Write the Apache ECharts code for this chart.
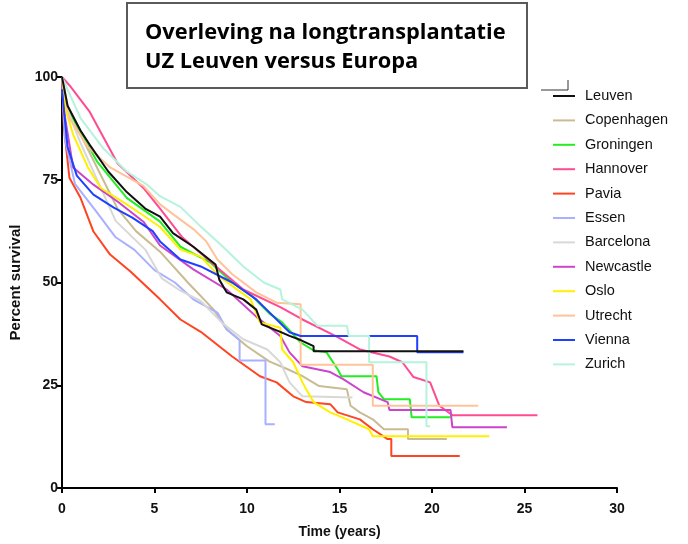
<!DOCTYPE html>
<html>
<head>
<meta charset="utf-8">
<script src="https://cdn.jsdelivr.net/npm/echarts@6/dist/echarts.min.js"></script>
<style>
html,body{margin:0;padding:0;background:#fff;}
#chart{width:688px;height:544px;}
</style>
</head>
<body>
<div id="chart"></div>
<script>
const titleLines = ['Overleving na longtransplantatie', 'UZ Leuven versus Europa'];
const xTicks = [0, 5, 10, 15, 20, 25, 30];
const yTicks = [0, 25, 50, 75, 100];
const names = ['Leuven','Copenhagen','Groningen','Hannover','Pavia','Essen','Barcelona','Newcastle','Oslo','Utrecht','Vienna','Zurich'];
const colors = ['#111111','#c9bc92','#22ee22','#ff4b93','#ff4422','#a9b0ff','#d8d8d8','#cc44cc','#fff000','#ffc39a','#1f40ff','#b5f3dc'];

const leuven = [[0,100],[0.3,93],[1,87],[1.5,83.5],[2.5,77],[3.5,72],[4.5,68],[5.3,66],[6,62],[7.1,58.7],[8.3,54.4],[8.5,50.7],[8.9,47.6],[9.8,45.9],[10.5,43.4],[10.8,39.8],[11.8,38],[12.3,37],[12.9,36],[13.6,34.5],[13.6,33.3],[21.7,33.3]];
const copenhagen = [[0,100],[0.3,93],[1,86],[2,77],[3,68],[4,62.5],[5.3,57.5],[6.8,50],[8.2,43.4],[8.9,38.6],[10,34.5],[11.2,30.8],[12.2,28.9],[13,27.2],[13.9,24.8],[15.4,24],[15.6,20],[16.1,18.4],[16.8,16.7],[17.4,14.3],[18.7,14.3],[18.7,11.9],[20.8,11.9]];
const groningen = [[0,100],[0.2,93],[1.1,86],[1.9,79.4],[3.5,70.6],[5.3,64.8],[6.4,58.7],[8,54.9],[9.2,50],[10.3,46.6],[11.2,42.5],[11.9,40.3],[12.9,35.4],[13.6,33.5],[14.3,33],[14.9,28.9],[15.1,27.2],[17,27.2],[17.1,23.3],[17.4,21.6],[18.8,21.6],[18.9,17.2],[21,17.2]];
const hannover = [[0,100],[0.4,98],[1.5,91.5],[3,79],[4.4,73],[5.3,68],[6.5,61],[8.2,54.4],[9.8,48.3],[11.8,44],[13,41],[14.9,36.7],[16.1,33.7],[17.7,32],[18.4,30.6],[19,27],[19.9,25.7],[20.4,20],[21.1,17.7],[25.7,17.7]];
const pavia = [[0,100],[0.1,88],[0.4,75.5],[1,70.6],[1.7,62.4],[2.6,56.8],[3.7,52.7],[5.3,45.9],[6.4,41],[7.5,38],[9.2,32],[10.7,27.2],[11.6,25.7],[12.5,22.3],[13.2,20.9],[14.5,20.4],[14.9,18.4],[16.1,16.7],[16.8,14.3],[17.6,11.9],[17.8,11.9],[17.8,7.8],[21.5,7.8]];
const essen = [[0,100],[0.15,85],[0.7,74],[1.9,67],[2.9,61],[3.9,58],[5,53],[6.1,50],[7.1,45.9],[8.4,42.7],[8.9,38.6],[9.6,36],[9.6,31],[11,31],[11,15.5],[11.5,15.5]];
const barcelona = [[0,100],[0.3,92],[1,84],[2,74],[2.9,65],[4.5,58],[5.4,51],[6.4,48],[7.5,45.5],[8.7,40],[9.8,36.2],[11.1,33.7],[11.8,30.6],[12.3,25.7],[13,22.3],[15.7,22]];
const newcastle = [[0,100],[0.1,92],[0.6,78],[1.7,73.8],[3,69.7],[4.4,64.8],[5.3,59],[7.1,53.2],[8.9,48.3],[10.5,41.7],[11.8,37],[12.3,33],[13,29.6],[14.5,28.2],[15.2,26.5],[16.3,23.3],[17.6,20.9],[17.7,19],[21,19],[21.1,14.8],[24.05,14.8]];
const oslo = [[0,100],[0.2,92],[0.6,86],[1.4,78],[2.1,73],[3.5,69],[4.5,66],[5.3,63.5],[6.4,58],[7.5,56.3],[8.5,51.5],[10.2,45.9],[10.7,40.3],[11.8,39],[11.9,33.7],[12.5,30.6],[13,25.7],[13.2,24],[13.6,20.9],[14.5,18.4],[15.4,16.7],[16.6,14.3],[16.8,12.6],[23.1,12.6]];
const utrecht = [[0,100],[0.4,90],[1.4,83],[2.6,78],[4.4,73.5],[5.3,69],[6.4,65.3],[7.1,63],[7.8,60],[8.4,55.6],[9.2,52],[10.5,47.6],[11.6,45.1],[12.9,44.7],[12.9,30],[16.8,30],[16.8,20],[22.5,20]];
const vienna = [[0,97],[0.3,83],[0.8,76],[1.7,71.4],[2.8,68.2],[3.8,65.8],[4.9,62.5],[5.3,60],[6.4,55.6],[7.5,53.9],[9.2,50],[10.5,45.9],[11.6,41],[12.3,37.9],[12.9,37],[19.2,37],[19.2,33],[21.7,33]];
const zurich = [[0,100],[1,90],[2.2,82.8],[3.5,77],[4.6,73.8],[5.3,71],[6.4,68.4],[7.5,63.6],[8.7,58.7],[9.8,53.9],[10.9,50],[11.8,48.3],[11.9,45.9],[13,43.4],[13.8,39.5],[15.4,39.5],[15.5,37],[16.6,37],[16.6,30.6],[19.7,30.6],[19.7,15],[19.9,15]];

const seriesData = [leuven, copenhagen, groningen, hannover, pavia, essen, barcelona, newcastle, oslo, utrecht, vienna, zurich];

const chart = echarts.init(document.getElementById('chart'));
const FONT = 'Liberation Sans';
const series = names.map((n, i) => ({
  name: n,
  type: 'line',
  data: seriesData[i],
  showSymbol: false,
  symbol: 'none',
  animation: false,
  z: i === 0 ? 5 : 2,
  lineStyle: { color: colors[i], width: 2 },
  itemStyle: { color: colors[i] }
}));

chart.setOption({
  backgroundColor: '#ffffff',
  animation: false,
  grid: { left: 62, right: 71, top: 77, bottom: 55, containLabel: false },
  xAxis: {
    type: 'value', min: xTicks[0], max: xTicks[xTicks.length - 1], interval: 5,
    name: 'Time (years)', nameLocation: 'middle', nameGap: 37,
    nameTextStyle: { fontFamily: FONT, fontWeight: 'bold', fontSize: 14, color: '#111' },
    axisLine: { lineStyle: { color: '#000', width: 2 } },
    axisTick: { show: true, length: 5, lineStyle: { color: '#000', width: 2 } },
    axisLabel: { fontFamily: FONT, fontWeight: 'bold', fontSize: 14, color: '#111', margin: 14 },
    splitLine: { show: false }
  },
  yAxis: {
    type: 'value', min: yTicks[0], max: yTicks[yTicks.length - 1], interval: 25,
    name: 'Percent survival', nameLocation: 'middle', nameGap: 35,
    nameTextStyle: { fontFamily: FONT, fontWeight: 'bold', fontSize: 15, color: '#111' },
    axisLine: { lineStyle: { color: '#000', width: 2 } },
    axisTick: { show: true, length: 5, lineStyle: { color: '#000', width: 2 } },
    axisLabel: { fontFamily: FONT, fontWeight: 'bold', fontSize: 14, color: '#111', margin: 4 },
    splitLine: { show: false }
  },
  legend: {
    data: names,
    orient: 'vertical',
    left: 548, top: 83,
    icon: 'rect',
    itemWidth: 22, itemHeight: 2,
    itemGap: 8.4,
    textStyle: { fontFamily: FONT, fontSize: 14.5, color: '#111', lineHeight: 16, padding: [0, 0, 0, 5] },
    selectedMode: false
  },
  graphic: [
    { type: 'rect', shape: { x: 127, y: 3, width: 400, height: 85 }, style: { fill: '#fff', stroke: '#5a5a5a', lineWidth: 2 }, z: 10 },
    { type: 'text', left: 145, top: 22, style: { text: titleLines[0], font: 'bold 21.8px "Open Sans", "Liberation Sans", sans-serif', fill: '#000' }, z: 11 },
    { type: 'text', left: 145, top: 51, style: { text: titleLines[1], font: 'bold 21.8px "Open Sans", "Liberation Sans", sans-serif', fill: '#000' }, z: 11 },
    { type: 'polyline', shape: { points: [[541, 90], [568, 90], [568, 80]] }, style: { stroke: '#333', lineWidth: 1, fill: null }, z: 11 }
  ],
  series: series
});
</script>
</body>
</html>
